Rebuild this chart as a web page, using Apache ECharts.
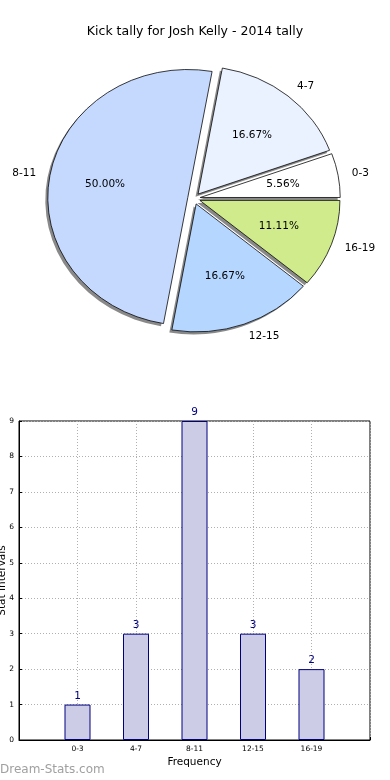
<!DOCTYPE html>
<html>
<head>
<meta charset="utf-8">
<script src="https://cdn.jsdelivr.net/npm/echarts@6/dist/echarts.min.js"></script>
<style>
html,body{margin:0;padding:0;background:#fff;}
#chart{width:390px;height:780px;}
</style>
</head>
<body>
<div id="chart"></div>
<script>
// ---- data ----
const titleText = 'Kick tally for Josh Kelly - 2014 tally';
const categories = ['0-3', '4-7', '8-11', '12-15', '16-19'];
const counts = [1, 3, 9, 3, 2];
const pieColors = ['#ffffff', '#ebf2ff', '#c5d9ff', '#b5d6ff', '#d0eb8b'];
const yAxisName = 'Stat Intervals';
const xAxisName = 'Frequency';
const watermark = 'Dream-Stats.com';

// ---- layout ----
const FONT = 'DejaVu Sans';
const PIE = { cx: 194, cy: 198.5, rx: 140, ry: 128, explode: 0.045, shadowDx: -2.5, shadowDy: 2.6 };
const TOTAL = counts.reduce((a, b) => a + b, 0);

function sliceGeom(i) {
  let a0 = 0;
  for (let k = 0; k < i; k++) a0 += counts[k] / TOTAL * 2 * Math.PI;
  const a1 = a0 + counts[i] / TOTAL * 2 * Math.PI;
  const mid = (a0 + a1) / 2;
  const cx = PIE.cx + PIE.explode * PIE.rx * Math.cos(mid);
  const cy = PIE.cy - PIE.explode * PIE.ry * Math.sin(mid);
  return { a0, a1, mid, cx, cy };
}

function sectorGroup(g, dx, dy, style) {
  return {
    type: 'group',
    x: g.cx + dx, y: g.cy + dy,
    scaleX: 1, scaleY: PIE.ry / PIE.rx,
    children: [{
      type: 'sector',
      shape: { cx: 0, cy: 0, r0: 0, r: PIE.rx, startAngle: -g.a1, endAngle: -g.a0, clockwise: true },
      style: style
    }]
  };
}

function renderShadow(params, api) {
  const g = sliceGeom(params.dataIndex);
  return sectorGroup(g, PIE.shadowDx, PIE.shadowDy, { fill: 'rgba(40,40,40,0.55)', stroke: null });
}

function renderWedge(params, api) {
  const i = params.dataIndex;
  const g = sliceGeom(i);
  const pct = (api.value(0) / TOTAL * 100).toFixed(2) + '%';
  const c = Math.cos(g.mid), s = Math.sin(g.mid);
  const lx = g.cx + 1.1 * PIE.rx * c;
  const ly = g.cy - 1.1 * PIE.ry * s;
  const px = g.cx + 0.6 * PIE.rx * c;
  const py = g.cy - 0.6 * PIE.ry * s;
  return {
    type: 'group',
    children: [
      sectorGroup(g, 0, 0, { fill: pieColors[i], stroke: '#000', lineWidth: 0.8 }),
      { type: 'text', x: px, y: py, style: { text: pct, fill: '#000', font: '10.5px ' + FONT, align: 'center', verticalAlign: 'middle' } },
      { type: 'text', x: lx, y: ly, style: { text: categories[i], fill: '#000', font: '10.5px ' + FONT, align: c < 0 ? 'right' : 'left', verticalAlign: 'middle' } }
    ]
  };
}

const xCats = [''].concat(categories, ['']);
const barData = [null].concat(counts, [null]);

const chart = echarts.init(document.getElementById('chart'), null, { renderer: 'canvas' });
chart.setOption({
  animation: false,
  backgroundColor: '#fff',
  textStyle: { fontFamily: FONT },
  title: {
    text: titleText, left: 'center', top: 20,
    textStyle: { fontFamily: FONT, fontSize: 12.5, fontWeight: 'normal', color: '#000' }
  },
  grid: {
    left: 19, right: 20, top: 421, bottom: 40,
    containLabel: false, outerBoundsMode: 'none',
    show: true, borderColor: '#000', borderWidth: 1, backgroundColor: 'transparent'
  },
  xAxis: {
    type: 'category', data: xCats, boundaryGap: false,
    name: xAxisName, nameLocation: 'middle', nameGap: 17, nameMoveOverlap: false,
    nameTextStyle: { fontFamily: FONT, fontSize: 10.5, color: '#000' },
    axisLine: { lineStyle: { color: '#000', width: 1 } },
    axisTick: { show: true, inside: true, length: 3, interval: 0, lineStyle: { color: '#000' } },
    axisLabel: { fontFamily: FONT, fontSize: 7.5, color: '#000', interval: 0, margin: 5 },
    splitLine: { show: true, interval: 0, lineStyle: { color: '#b0b0b0', type: [1, 2], width: 1 } }
  },
  yAxis: {
    type: 'value', min: 0, max: 9, interval: 1,
    name: yAxisName, nameLocation: 'middle', nameGap: 11, nameRotate: 90, nameMoveOverlap: false,
    nameTextStyle: { fontFamily: FONT, fontSize: 10.5, color: '#000' },
    axisLine: { show: true, lineStyle: { color: '#000', width: 1 } },
    axisTick: { show: true, inside: true, length: 3, lineStyle: { color: '#000' } },
    axisLabel: { fontFamily: FONT, fontSize: 7.5, color: '#000', margin: 5 },
    splitLine: { show: true, lineStyle: { color: '#b0b0b0', type: [1, 2], width: 1 } }
  },
  graphic: [{
    type: 'text', left: 0, top: 764,
    style: { text: watermark, fill: '#a0a0a0', font: '12px ' + FONT }
  }],
  series: [
    {
      type: 'custom', coordinateSystem: 'none', renderItem: renderShadow,
      data: counts.map(v => [v]), z: 1, silent: true
    },
    {
      type: 'custom', coordinateSystem: 'none', renderItem: renderWedge,
      data: counts.map(v => [v]), z: 2, silent: true
    },
    {
      type: 'bar', data: barData, barWidth: 26,
      itemStyle: { color: '#ccccE6', borderColor: '#000080', borderWidth: 1 },
      label: { show: true, position: 'top', distance: 3, color: '#000080', fontFamily: FONT, fontSize: 10.5 },
      z: 3
    }
  ]
});
</script>
</body>
</html>
